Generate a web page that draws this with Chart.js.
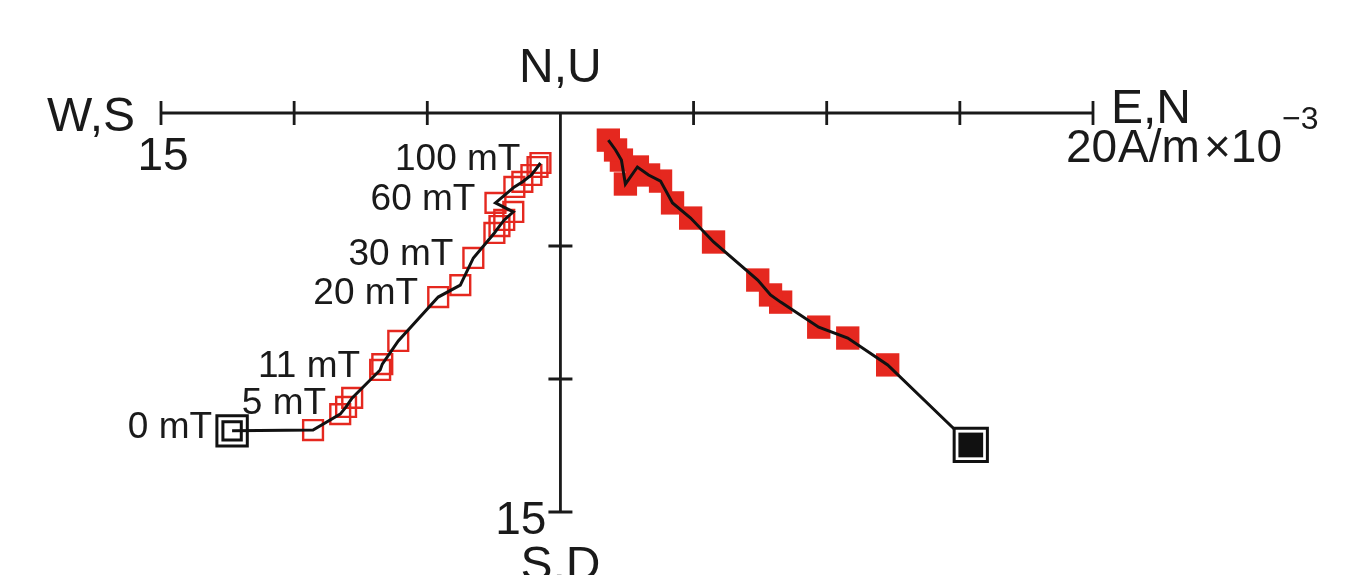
<!DOCTYPE html>
<html>
<head>
<meta charset="utf-8">
<script src="https://cdn.jsdelivr.net/npm/chart.js@4"></script>
<style>
  body { margin: 0; background: #fff; }
  canvas { display: block; }
</style>
</head>
<body>
<canvas id="zij" width="1355" height="575"></canvas>
<script>
// demagnetisation steps, vertical-plane projection (open squares)
var openStart = [-12.33, -11.95];
var openX = [-9.29, -8.27, -8.05, -7.82, -6.77, -6.69, -6.09, -4.59, -3.76, -3.27, -2.48, -2.29, -2.11, -1.77, -2.44, -1.73, -1.43, -1.09, -0.86, -0.75];
var openY = [-11.92, -11.32, -11.05, -10.71, -9.66, -9.44, -8.57, -6.92, -6.47, -5.45, -4.51, -4.25, -4.02, -3.72, -3.38, -2.78, -2.59, -2.33, -2.03, -1.88];

// horizontal-plane projection (filled squares)
var fillStart = [15.41, -12.48];
var fillX = [12.29, 10.79, 9.70, 8.27, 7.89, 7.41, 5.75, 4.89, 4.21, 3.76, 3.31, 2.89, 2.44, 2.29, 2.07, 1.80];
var fillY = [-9.47, -8.46, -8.05, -7.11, -6.84, -6.28, -4.85, -3.95, -3.38, -2.56, -2.33, -2.03, -2.67, -1.77, -1.39, -1.02];

// step labels, attached to points of the open series (0 = start)
var stepLabels = ["0 mT", "5 mT", "11 mT", "20 mT", "30 mT", "60 mT", "100 mT"];
var stepIndex = [0, 3, 5, 8, 10, 15, 20];

var xTicks = [-15, -10, -5, 5, 10, 15, 20];
var yTicks = [-5, -10, -15];

var red = "#e5281f";

function pts(xs, ys) {
  return xs.map(function (x, i) { return { x: x, y: ys[i] }; });
}
var openPts = pts(openX, openY);
var fillPts = pts(fillX, fillY);
var openStartPt = { x: openStart[0], y: openStart[1] };
var fillStartPt = { x: fillStart[0], y: fillStart[1] };

var axesPlugin = {
  id: "zijAxes",
  beforeDatasetsDraw: function (chart) {
    var ctx = chart.ctx;
    var sx = chart.scales.x, sy = chart.scales.y;
    var x0 = sx.getPixelForValue(0), y0 = sy.getPixelForValue(0);
    ctx.save();
    ctx.strokeStyle = "#1a1a1a";
    ctx.lineWidth = 2.8;
    ctx.beginPath();
    ctx.moveTo(sx.getPixelForValue(-15), y0);
    ctx.lineTo(sx.getPixelForValue(20), y0);
    ctx.moveTo(x0, y0);
    ctx.lineTo(x0, sy.getPixelForValue(-15));
    xTicks.forEach(function (v) {
      var p = sx.getPixelForValue(v);
      ctx.moveTo(p, y0 - 12);
      ctx.lineTo(p, y0 + 12);
    });
    yTicks.forEach(function (v) {
      var p = sy.getPixelForValue(v);
      ctx.moveTo(x0 - 12, p);
      ctx.lineTo(x0 + 12, p);
    });
    ctx.stroke();

    ctx.fillStyle = "#1a1a1a";
    ctx.textBaseline = "alphabetic";
    ctx.font = "48px 'Liberation Sans', Arial, sans-serif";
    ctx.textAlign = "right";
    ctx.fillText("W,S", sx.getPixelForValue(-15) - 26, y0 + 18);
    ctx.textAlign = "center";
    ctx.fillText("N,U", x0, y0 - 31);
    ctx.fillText("S,D", x0, sy.getPixelForValue(-15) + 68);
    ctx.textAlign = "left";
    ctx.fillText("E,N", sx.getPixelForValue(20) + 18, y0 + 10);

    ctx.font = "46px 'Liberation Sans', Arial, sans-serif";
    ctx.textAlign = "center";
    ctx.fillText("15", sx.getPixelForValue(-15) + 2, y0 + 57);
    ctx.textAlign = "right";
    ctx.fillText("15", x0 - 14, sy.getPixelForValue(-15) + 22);
    ctx.textAlign = "left";
    var ux = sx.getPixelForValue(20) - 27;
    ctx.fillText("20", ux, y0 + 49);
    ctx.fillText("A/m", ux + 52, y0 + 49);
    ctx.fillText("\u00d710", ux + 138, y0 + 49);
    ctx.font = "32px 'Liberation Sans', Arial, sans-serif";
    ctx.fillText("\u22123", ux + 216, y0 + 16);
    ctx.restore();
  },
  afterDatasetsDraw: function (chart) {
    var ctx = chart.ctx;
    var sx = chart.scales.x, sy = chart.scales.y;
    var all = [openStartPt].concat(openPts);
    ctx.save();
    ctx.fillStyle = "#1a1a1a";
    ctx.font = "37px 'Liberation Sans', Arial, sans-serif";
    ctx.textAlign = "right";
    ctx.textBaseline = "middle";
    stepLabels.forEach(function (t, i) {
      var p = all[stepIndex[i]];
      ctx.fillText(t, sx.getPixelForValue(p.x) - 20, sy.getPixelForValue(p.y) - 3);
    });
    ctx.restore();
  }
};

new Chart(document.getElementById("zij"), {
  type: "scatter",
  data: {
    datasets: [
      { label: "fill start inner", data: [fillStartPt], pointStyle: "rect", pointRadius: 17.5,
        backgroundColor: "#111", borderColor: "#111", borderWidth: 0, order: 0 },
      { label: "fill start outer", data: [fillStartPt], pointStyle: "rect", pointRadius: 23.5,
        backgroundColor: "#fff", borderColor: "#111", borderWidth: 3, order: 1 },
      { label: "open line", data: [openStartPt].concat(openPts), showLine: true, pointRadius: 0,
        borderColor: "#111", borderWidth: 3, order: 2 },
      { label: "fill line", data: [fillStartPt].concat(fillPts), showLine: true, pointRadius: 0,
        borderColor: "#111", borderWidth: 3, order: 2 },
      { label: "open start inner", data: [openStartPt], pointStyle: "rect", pointRadius: 13,
        backgroundColor: "rgba(0,0,0,0)", borderColor: "#111", borderWidth: 3, order: 3 },
      { label: "open start outer", data: [openStartPt], pointStyle: "rect", pointRadius: 21.5,
        backgroundColor: "#fff", borderColor: "#111", borderWidth: 3, order: 4 },
      { label: "open", data: openPts, pointStyle: "rect", pointRadius: 14,
        backgroundColor: "rgba(0,0,0,0)", borderColor: red, borderWidth: 2.4, order: 5 },
      { label: "filled", data: fillPts, pointStyle: "rect", pointRadius: 16.5,
        backgroundColor: red, borderColor: red, borderWidth: 0, order: 6 }
    ].map(function (d) { d.clip = false; d.pointHoverRadius = d.pointRadius; return d; })
  },
  options: {
    responsive: false,
    animation: false,
    layout: { padding: { left: 161, right: 262, top: 113, bottom: 63 } },
    plugins: { legend: { display: false }, tooltip: { enabled: false } },
    scales: {
      x: { type: "linear", min: -15, max: 20, display: false },
      y: { type: "linear", min: -15, max: 0, display: false }
    }
  },
  plugins: [axesPlugin]
});
</script>
</body>
</html>
